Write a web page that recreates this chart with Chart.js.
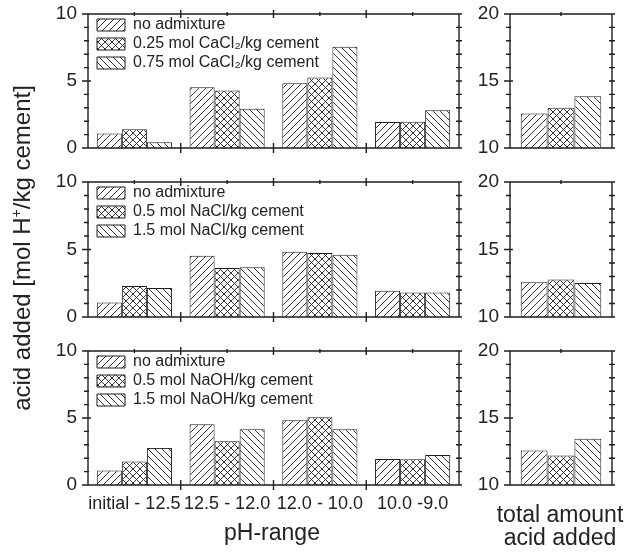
<!DOCTYPE html>
<html>
<head>
<meta charset="utf-8">
<script src="https://cdn.jsdelivr.net/npm/chart.js@4.4.1/dist/chart.umd.min.js"></script>
<style>
  body { margin: 0; background: #fff; }
  #wrap { position: relative; width: 638px; height: 552px; overflow: hidden;
          font-family: 'Liberation Sans', Arial, sans-serif; color: #222; }
  canvas { position: absolute; left: 0; top: 0; pointer-events: none; }
  .t { position: absolute; white-space: nowrap; text-align: center; }
  #ytitle { left: 22px; top: 248px; width: 420px; font-size: 24px; line-height: 26px;
            transform: translate(-50%, -50%) rotate(-90deg); }
  #ytitle sup { font-size: 14px; line-height: 0; vertical-align: 9px; }
</style>
</head>
<body>
<div id="wrap">
  <canvas id="c1" width="638" height="552"></canvas>
  <canvas id="c2" width="638" height="552"></canvas>
  <canvas id="c3" width="638" height="552"></canvas>
  <canvas id="c4" width="638" height="552"></canvas>
  <canvas id="c5" width="638" height="552"></canvas>
  <canvas id="c6" width="638" height="552"></canvas>
  <div class="t" id="ytitle">acid added [mol H<sup>+</sup>/kg cement]</div>
  <div class="t" style="left:172px;top:519px;width:200px;font-size:23px;line-height:26px">pH-range</div>
  <div class="t" style="left:460px;top:503px;width:200px;font-size:23px;line-height:23px">total amount<br>acid added</div>
</div>
<script>
// pH ranges on the x axis
const phRanges = ['initial - 12.5', '12.5 - 12.0', '12.0 - 10.0', '10.0 -9.0'];

// acid added per pH range [mol H+/kg cement]
const noAdmixture = [1.08, 4.53, 4.84, 1.94];
const cacl2Low  = [1.40, 4.30, 5.27, 1.96];
const cacl2High = [0.43, 2.93, 7.56, 2.81];
const naclLow   = [2.30, 3.63, 4.74, 1.81];
const naclHigh  = [2.15, 3.68, 4.62, 1.81];
const naohLow   = [1.75, 3.27, 5.05, 1.93];
const naohHigh  = [2.77, 4.16, 4.16, 2.23];

// total amount of acid added (no admixture, low, high)
const totalsCacl2 = [12.57, 13.00, 13.86];
const totalsNacl  = [12.57, 12.77, 12.52];
const totalsNaoh  = [12.57, 12.20, 13.46];

const cacl2Labels = ['no admixture', '0.25 mol CaCl\u2082/kg cement', '0.75 mol CaCl\u2082/kg cement'];
const naclLabels  = ['no admixture', '0.5 mol NaCl/kg cement', '1.5 mol NaCl/kg cement'];
const naohLabels  = ['no admixture', '0.5 mol NaOH/kg cement', '1.5 mol NaOH/kg cement'];

const ink = '#1e1e1e';
Chart.defaults.font.family = "'Liberation Sans', Arial, sans-serif";
Chart.defaults.color = '#222';

// hatch fills: forward diagonal, cross, backward diagonal
function hatch(kind) {
    const s = 7;
    const c = document.createElement('canvas');
    c.width = s; c.height = s;
    const g = c.getContext('2d');
    g.fillStyle = '#fff';
    g.fillRect(0, 0, s, s);
    g.strokeStyle = ink;
    g.lineWidth = 0.9;
    g.beginPath();
    if (kind !== 'back') {
        g.moveTo(0, s); g.lineTo(s, 0);
        g.moveTo(-1, 1); g.lineTo(1, -1);
        g.moveTo(s - 1, s + 1); g.lineTo(s + 1, s - 1);
    }
    if (kind !== 'fwd') {
        g.moveTo(0, 0); g.lineTo(s, s);
        g.moveTo(-1, s - 1); g.lineTo(1, s + 1);
        g.moveTo(s - 1, -1); g.lineTo(s + 1, 1);
    }
    g.stroke();
    return g.createPattern(c, 'repeat');
}
const fills = [hatch('fwd'), hatch('cross'), hatch('back')];

// box frame with inner/outer tick marks, placed through the scales
const frameTicks = {
    id: 'frameTicks',
    afterDatasetsDraw(chart) {
        const { ctx, chartArea: a, scales: { x, y } } = chart;
        const seg = (x1, y1, x2, y2) => { ctx.moveTo(x1, y1); ctx.lineTo(x2, y2); };
        ctx.save();
        ctx.strokeStyle = ink;
        ctx.lineWidth = 1.4;
        ctx.beginPath();
        ctx.rect(a.left, a.top, a.right - a.left, a.bottom - a.top);
        for (let v = y.min; v <= y.max; v++) {
            const py = y.getPixelForValue(v);
            const major = v % 5 === 0;
            seg(a.left - (major ? 6 : 4), py, a.left + (major ? 3 : 1), py);
            seg(a.right - 3, py, a.right + 3, py);
        }
        for (let i = 0; i < x.ticks.length; i++) {
            const c = x.getPixelForValue(i);
            seg(c, a.top - 2, c, a.top + 2);
            if (i > 0) {
                const b = x.getPixelForValue(i - 0.5);
                seg(b, a.top - 4, b, a.top + 4);
                seg(b, a.bottom - 5, b, a.bottom + 5);
            }
        }
        ctx.stroke();
        ctx.restore();
    }
};

// pin the legend inside the plot, a little away from the left axis
const legendInset = {
    id: 'legendInset',
    afterLayout(chart) {
        if (chart.options.plugins.legend.display) {
            const lg = chart.legend, a = chart.chartArea;
            const w = lg.width, h = lg.height;
            lg.left = a.left + 6;
            lg.right = lg.left + w;
            lg.top = a.top;
            lg.bottom = lg.top + h;
        }
    }
};

const rows = [{ top: 14, bottom: 148 }, { top: 182, bottom: 317 }, { top: 351, bottom: 485 }];

function makePanel(canvasId, row, isLeft, labels, seriesLabels, seriesData, showX) {
    const yW = 60;
    const xH = showX ? 30 : 0;
    const left = isLeft ? 88 : 510;
    const right = isLeft ? 459 : 612;
    return new Chart(document.getElementById(canvasId), {
        type: 'bar',
        data: {
            labels: labels,
            datasets: seriesData.map((d, i) => ({
                label: seriesLabels[i],
                data: d,
                backgroundColor: fills[i],
                borderColor: ink,
                borderWidth: 1,
                barPercentage: 1,
                categoryPercentage: isLeft ? 0.81 : 0.79
            }))
        },
        options: {
            responsive: false,
            animation: false,
            events: [],
            layout: {
                padding: { left: left - yW, right: 638 - right, top: row.top, bottom: 552 - row.bottom - xH }
            },
            plugins: {
                tooltip: { enabled: false },
                legend: {
                    display: isLeft,
                    position: 'chartArea',
                    align: 'start',
                    labels: {
                        boxWidth: 28,
                        boxHeight: 12,
                        padding: 3,
                        color: '#222',
                        font: { size: 16 }
                    }
                }
            },
            scales: {
                x: {
                    grid: { display: false, drawTicks: false },
                    border: { display: false },
                    ticks: {
                        display: showX,
                        padding: 8,
                        maxRotation: 0,
                        autoSkip: false,
                        color: '#222',
                        font: { size: 18 }
                    },
                    afterFit: s => { s.height = xH; }
                },
                y: {
                    min: isLeft ? 0 : 10,
                    max: isLeft ? 10 : 20,
                    grid: { display: false, drawTicks: false },
                    border: { display: false },
                    ticks: { stepSize: 5, padding: 11, color: '#222', font: { size: 19 } },
                    afterFit: s => { s.width = yW; s.paddingTop = 0; s.paddingBottom = 0; }
                }
            }
        },
        plugins: [frameTicks, legendInset]
    });
}

const single = arr => arr.map(v => [v]);

makePanel('c1', rows[0], true, phRanges, cacl2Labels, [noAdmixture, cacl2Low, cacl2High], false);
makePanel('c2', rows[0], false, [''], cacl2Labels, single(totalsCacl2), false);
makePanel('c3', rows[1], true, phRanges, naclLabels, [noAdmixture, naclLow, naclHigh], false);
makePanel('c4', rows[1], false, [''], naclLabels, single(totalsNacl), false);
makePanel('c5', rows[2], true, phRanges, naohLabels, [noAdmixture, naohLow, naohHigh], true);
makePanel('c6', rows[2], false, [''], naohLabels, single(totalsNaoh), false);
</script>
</body>
</html>
